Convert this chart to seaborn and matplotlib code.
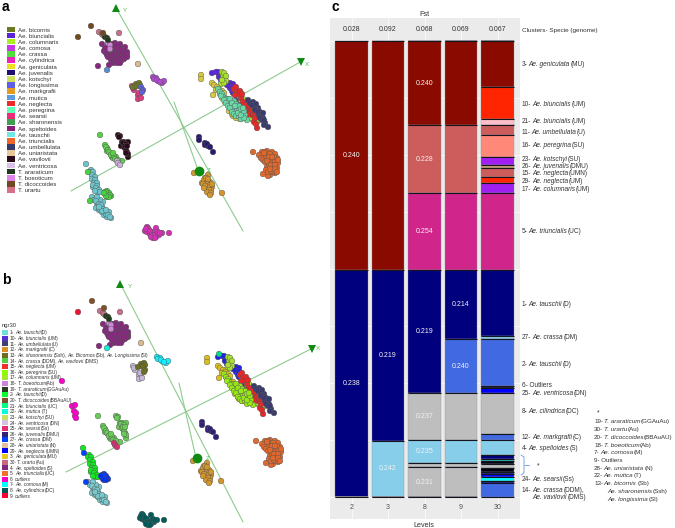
import pandas as pd
import matplotlib
matplotlib.use("Agg")
import matplotlib.pyplot as plt
import seaborn as sns

sns.set_theme(style="white")
plt.rcParams["font.family"] = ["Liberation Sans", "DejaVu Sans"]

W, H = 675, 528

# ---- panel a / b legends
legend_a = ["Ae. bicornis", "Ae. biuncialis", "Ae. columnaris", "Ae. comosa", "Ae. crassa",
            "Ae. cylindrica", "Ae. geniculata", "Ae. juvenalis", "Ae. kotschyi", "Ae. longissima",
            "Ae. markgrafii", "Ae. mutica", "Ae. neglecta", "Ae. peregrina", "Ae. searsii",
            "Ae. sharonensis", "Ae. speltoides", "Ae. tauschii", "Ae. triuncialis", "Ae. umbellulata",
            "Ae. uniaristata", "Ae. vavilovii", "Ae. ventricosa", "T. araraticum", "T. boeoticum",
            "T. dicoccoides", "T. urartu"]
colors_a = ["#6b7a1e", "#5a25d8", "#aaf01f", "#c838e8", "#4de03d", "#f01fc0", "#efdf1f", "#1f0f6f",
            "#cfe05f", "#5f5fe8", "#e39a20", "#5b9be0", "#f02828", "#5fffb5", "#ef2a7a", "#3f9f4f",
            "#8a1f7a", "#70e8e8", "#f0652a", "#35386a", "#e6c89a", "#2a0a1a", "#d9c0e8", "#1f3a1a",
            "#df85ea", "#704a20", "#d8708a"]

legend_b = ["1- *Ae. tauschii* (D)", "10- *Ae. biuncialis* (UM)", "11- *Ae. umbellulata* (U)",
            "12- *Ae. markgrafii* (C)", "13- *Ae. sharonensis* (Ssh), *Ae. Bicornos* (Sb), *Ae. Longissima* (Sl)",
            "14- *Ae. crassa* (DDM), *Ae. vavilovii* (DMS)", "15- *Ae. neglecta* (UM)", "16- *Ae. peregrina* (SU)",
            "17- *Ae. columnaris* (UM)", "18- *T. boeoticum* (Ab)", "19- *T. araraticum* (GGAuAu)",
            "2- *Ae. tauschii* (D)", "20- *T. dicoccoides* (BBAuAU)", "21- *Ae. biuncialis* (UC)",
            "22- *Ae. mutica* (T)", "23- *Ae. kotschyi* (SU)", "24- *Ae. ventricosa* (DN)", "25- *Ae. searsii* (Ss)",
            "26- *Ae. juvenalis* (DMU)", "27- *Ae. crassa* (DM)", "28- *Ae. uniaristata* (N)",
            "29- *Ae. neglecta* (UMN)", "3- *Ae. geniculata* (MU)", "30- *T. urartu* (Au)", "4- *Ae. speltoides* (S)",
            "5- *Ae. triuncialis* (UC)", "6- *outliers*", "7- *Ae. comosa* (M)", "8- *Ae. cylindrica* (DC)",
            "9- *outliers*"]
colors_b = ["#70dede", "#5a2fd0", "#404070", "#d8902a", "#6b701e", "#50d040", "#f03030", "#8fff00",
            "#a5e82a", "#d080e0", "#2a3a20", "#00ff2a", "#80502a", "#00ff80", "#00ffdd", "#c8e060",
            "#d8c0e0", "#e03070", "#30207a", "#0040ff", "#e0c0a0", "#0000ff", "#e8c820", "#c86a80",
            "#802a80", "#f07030", "#ff00cc", "#00ffff", "#005a5a", "#ff0030"]

# ---- scatter points
gold = [(201, 75), (201, 79), (212, 83), (214, 85), (217, 87), (219, 89), (222, 91), (213, 95), (224, 97),
        (227, 99), (228, 102), (231, 105), (234, 112), (238, 113), (233, 116), (240, 119), (224, 93),
        (216, 90), (220, 94), (222, 98), (225, 102), (229, 106), (232, 114), (236, 118), (229, 111)]
mint = [(218, 89), (220, 92), (222, 94), (223, 97), (225, 99), (227, 101), (229, 103), (231, 101), (232, 105),
        (233, 107), (235, 103), (235, 109), (237, 107), (237, 111), (239, 109), (240, 113), (242, 112),
        (242, 117), (245, 115), (247, 120), (228, 99), (232, 109), (221, 96), (224, 100), (226, 103), (228, 106),
        (230, 108), (232, 112), (234, 114), (236, 116), (239, 116), (241, 119), (244, 118), (238, 113),
        (241, 115), (234, 101), (236, 104), (239, 106), (241, 109), (244, 111), (243, 108),
        (230, 99), (232, 103), (235, 106)]
purple = [(212, 73), (219, 74), (220, 77), (223, 80), (230, 83), (233, 84), (230, 88), (232, 91), (237, 97),
          (240, 102), (243, 103), (238, 99), (216, 72), (218, 72), (221, 75), (219, 77), (221, 80), (227, 85),
          (229, 86), (233, 87), (235, 90), (233, 93), (236, 94), (240, 99), (242, 100), (245, 106), (241, 104)]
lime = [(223, 75), (225, 79), (221, 84), (238, 95), (250, 110), (253, 112), (257, 122), (257, 117), (254, 118),
        (247, 117), (248, 105), (241, 100), (244, 103), (252, 114), (256, 120), (222, 72), (224, 73), (226, 76),
        (226, 81), (224, 83), (222, 80), (236, 92), (240, 97), (243, 99), (246, 104), (249, 107), (251, 109),
        (254, 115), (250, 113), (248, 109), (255, 122), (253, 120), (251, 118), (258, 120), (245, 108), (247, 112)]
red = [(234, 89), (237, 92), (239, 94), (241, 98), (244, 107), (247, 108), (249, 110), (252, 115), (254, 122),
       (257, 128), (235, 95), (236, 87), (240, 91), (242, 94), (243, 102), (246, 105), (250, 106), (252, 110),
       (254, 113), (255, 118), (256, 124), (250, 112), (248, 114)]
slate = [(248, 100), (253, 102), (255, 107), (258, 108), (260, 112), (262, 115), (263, 118), (265, 123),
         (268, 127), (257, 110), (259, 115), (250, 103), (252, 105), (255, 110), (258, 112), (261, 116), (260, 118),
         (262, 120), (264, 120), (263, 113), (256, 104), (264, 125)]
taus_up = [(91, 170), (92, 173), (93, 177), (94, 181), (95, 185), (97, 189), (98, 192), (93, 187), (90, 172),
           (93, 172), (92, 175), (95, 177), (92, 179), (95, 180), (94, 183), (97, 183), (93, 185), (97, 186),
           (96, 188), (99, 190), (100, 192), (95, 191)]
taus_out = [(86, 164)]
taus_low = [(92, 197), (94, 200), (97, 203), (98, 206), (96, 208), (99, 210), (102, 212), (104, 215), (107, 217),
            (111, 218), (109, 212), (103, 202), (100, 200), (102, 207), (97, 197), (96, 201), (99, 204), (101, 205),
            (100, 209), (103, 209), (105, 212), (106, 214), (104, 211), (108, 215), (110, 217), (102, 211),
            (99, 207), (106, 210)]
crassa_blob = [(105, 192), (107, 191), (109, 193), (111, 196), (107, 197), (105, 194), (108, 195), (106, 192),
               (110, 195), (109, 197), (106, 196), (104, 193)]
crassa_out = [(88, 172), (90, 201)]
crassa_top = [(100, 135), (105, 145), (107, 148), (107, 151), (110, 153), (112, 157), (113, 158), (116, 157),
              (112, 154), (122, 161), (106, 147), (108, 150), (109, 152), (111, 155), (114, 156), (113, 153),
              (115, 159), (118, 160)]
vavilovii = [(118, 135), (120, 136), (122, 142), (124, 142), (128, 142), (123, 145), (125, 148), (127, 152),
             (128, 157), (121, 146), (119, 137), (123, 143), (126, 144), (124, 147), (126, 150), (128, 154),
             (126, 153), (125, 146), (127, 146)]
ventricosa = [(117, 161), (118, 163), (120, 165)]
cylindrica = [(147, 227), (145, 231), (147, 232), (150, 234), (153, 236), (156, 237), (159, 235), (162, 233),
              (152, 232), (156, 228), (169, 233), (149, 230), (153, 238), (157, 234), (148, 228), (146, 229),
              (150, 231), (152, 235), (155, 235), (158, 232), (160, 233), (151, 237), (155, 238)]
speltoides = [(108, 45), (112, 47), (115, 43), (118, 46), (122, 48), (125, 47), (106, 53), (109, 52), (113, 52),
              (117, 51), (122, 52), (127, 55), (107, 55), (111, 57), (115, 57), (119, 55), (123, 56), (127, 57),
              (113, 59), (117, 60), (121, 61), (124, 59), (118, 62), (113, 63), (109, 65), (102, 44), (98, 66),
              (110, 44), (113, 44), (120, 44), (107, 48), (110, 49), (114, 49), (116, 48), (120, 49), (124, 50),
              (127, 52), (104, 51), (109, 55), (113, 55), (117, 54), (121, 54), (125, 53), (111, 60), (115, 60),
              (119, 58), (122, 58), (125, 57), (117, 63), (120, 63), (108, 57), (105, 48), (115, 46)]
boeoticum = [(108, 43), (110, 45), (110, 49)]
urartu = [(99, 32), (102, 34), (103, 35), (119, 33)]
araraticum = [(105, 37), (107, 38), (108, 40)]
dicoccoides = [(91, 26), (103, 33)]
dico_out = [(78, 37)]
mutica = [(107, 70)]
uniaristata = [(138, 64)]
bicornis = [(136, 84), (139, 83), (133, 87), (137, 86), (140, 85)]
longissima = [(141, 87), (143, 90), (142, 92)]
searsii = [(132, 86), (134, 90), (138, 95), (140, 97), (138, 99), (141, 98), (133, 88), (139, 93)]
comosa = [(153, 77), (156, 78), (158, 81), (162, 83), (164, 81), (154, 79), (157, 80), (160, 82)]
juvenalis = [(199, 137), (199, 140), (205, 143), (208, 146), (213, 152), (205, 145), (207, 144), (210, 147)]
triuncialis = [(253, 152), (262, 152), (267, 151), (272, 152), (275, 154), (277, 158), (278, 163), (277, 168),
               (275, 173), (270, 175), (267, 167), (270, 160), (273, 163), (268, 155), (263, 155), (265, 158),
               (272, 168), (275, 160), (269, 165), (273, 172), (263, 174), (268, 176), (259, 155), (261, 158),
               (263, 160), (265, 162), (265, 152), (270, 154), (274, 157), (266, 170), (268, 172), (271, 171),
               (274, 170), (271, 165), (275, 165), (278, 160), (269, 157), (272, 157), (267, 161), (275, 169),
               (270, 169), (264, 153), (277, 172)]
markgrafii = [(202, 183), (205, 178), (210, 182), (212, 187), (209, 193), (206, 188), (222, 193), (194, 173),
              (208, 175), (204, 180), (207, 184), (211, 190), (203, 184), (206, 178), (208, 179), (210, 185),
              (208, 187), (205, 186), (209, 190), (207, 192), (211, 193), (212, 184), (204, 188), (210, 195)]

# points only seen in panel b (its own pixel frame)
extra_b_magenta = [(62, 381), (72, 406), (75, 405), (74, 411), (75, 416), (76, 418), (76, 413)]
extra_b_green = [(219, 354)]

# name, points, colour in a, colour in b, shift from a to b
clusters = [
    ("triuncialis", triuncialis, "#e0682c", "#e0682c", 3, 289),
    ("markgrafii", markgrafii, "#d3962c", "#d3962c", -1, 288),
    ("juvenalis", juvenalis, "#2a1a70", "#30207a", 3, 285),
    ("cylindrica", cylindrica, "#d62fb5", "#005a5a", -5, 287),
    ("taus_low", taus_low, "#6cc4cc", "#78c8cc", -4, 285),
    ("taus_up", taus_up, "#6cc4cc", "#10e820", -2, 285),
    ("taus_out", taus_out, "#6cc4cc", "#10e820", -3, 284),
    ("crassa_blob", crassa_blob, "#48d040", "#0030f0", -3, 283),
    ("crassa_out", crassa_out, "#48d040", "#0040ff", -4, 281),
    ("crassa_top", crassa_top, "#58d048", "#68cc58", -2, 281),
    ("vavilovii", vavilovii, "#2a0a1a", "#68cc58", -2, 281),
    ("ventricosa", ventricosa, "#c8b0d8", "#d83070", -3, 282),
    ("speltoides", speltoides, "#86287e", "#86287e", 1, 280),
    ("boeoticum", boeoticum, "#d088d8", "#d088d8", 1, 280),
    ("urartu", urartu, "#c87088", "#c87088", 1, 279),
    ("araraticum", araraticum, "#1f3a1a", "#1f3a1a", 1, 279),
    ("dicoccoides", dicoccoides, "#704a20", "#80502a", 1, 275),
    ("dico_out", dico_out, "#704a20", "#f01030", 0, 275),
    ("mutica", mutica, "#5b8fd0", "#10f0e0", 0, 278),
    ("uniaristata", uniaristata, "#d8bc90", "#d8bc90", 3, 279),
    ("searsii", searsii, "#e03a80", "#c8b8d8", 1, 280),
    ("bicornis", bicornis, "#6b7a1e", "#6b701e", 5, 280),
    ("longissima", longissima, "#5f5fd8", "#6b701e", 2, 280),
    ("comosa", comosa, "#b048d0", "#10f0ff", 4, 280),
    ("purple", purple, "#5a25d8", "#2020e8", 6, 284),
    ("lime", lime, "#a8e030", "#a8e030", 6, 285),
    ("red", red, "#e82828", "#e82828", 6, 286),
    ("slate", slate, "#3a3c70", "#3a3c70", 6, 286),
    ("gold", gold, "#d8c840", "#d8c020", 6, 283),
    ("mint", mint, "#68d8a8", "#98e818", 6, 285),
]

# coordinate axes drawn over the cloud: (x0, y0, x1, y1)
axes_a = [(71, 191, 302, 61), (243, 231, 115, 6), (174, 102, 198, 170)]
axes_b = [(66, 472, 313, 348), (243, 522, 120, 283), (179, 383, 196, 458)]

# ---- panel c
levels = ["2", "3", "8", "9", "30"]
fst = ["0.028", "0.092", "0.068", "0.069", "0.067"]

DR, OR, PK, IR, SA = "#8b0a00", "#ff2500", "#ffc0cb", "#cd5c5c", "#ff8878"
PU, TN, MG, NV, LB = "#a020f0", "#c8a070", "#d0268c", "#00007f", "#87ceeb"
RB, BK, BL, GY, CY = "#4169e1", "#000010", "#0000ff", "#bebebe", "#00ffff"
TL = "#00c8b8"

seg_2 = [229, 227]
col_2 = [DR, NV]
txt_2 = ["0.240", "0.238"]
seg_3 = [229, 171, 56]
col_3 = [DR, NV, LB]
txt_3 = [None, "0.219", "0.242"]
seg_8 = [84, 68, 77, 123, 47, 23, 4, 30]
col_8 = [DR, IR, MG, NV, GY, LB, GY, GY]
txt_8 = ["0.240", "0.228", "0.254", "0.219", "0.237", "0.235", None, "0.231"]
seg_9 = [84, 68, 77, 69, 54, 47, 23, 4, 30]
col_9 = [DR, IR, MG, NV, RB, GY, LB, GY, GY]
txt_9 = [None, None, None, "0.214", "0.240", None, None, None, None]
seg_30 = [46, 32, 6, 10, 22, 8, 3, 9, 6, 10, 77, 66, 3, 47, 2, 5, 41, 6, 15, 4, 2, 3, 4, 4, 2, 3, 4, 2, 14]
col_30 = [DR, OR, PK, IR, SA, PU, TN, IR, OR, PU, MG, NV, LB, RB, BK, BL, GY, RB, LB, NV, TL, BK, GY, BK,
          NV, BL, CY, NV, RB]

labels_right = [("3- *Ae. geniculata* (MU)", 63.5), ("10- *Ae. biuncialis* (UM)", 104),
                ("21- *Ae. biuncialis* (UM)", 121), ("11- *Ae. umbellulata* (U)", 132),
                ("16- *Ae. peregrina* (SU)", 145), ("23- *Ae. kotschyi* (SU)", 159),
                ("26- *Ae. juvenalis* (DMU)", 166), ("15- *Ae. neglecta* (UMN)", 173),
                ("29- *Ae. neglecta* (UM)", 181), ("17- *Ae. columnaris* (UM)", 189),
                ("5- *Ae. triuncialis* (UC)", 231), ("1- *Ae. tauschii* (D)", 304),
                ("27- *Ae. crassa* (DM)", 337), ("2- *Ae. tauschii* (D)", 364), ("6- Outliers", 385),
                ("25- *Ae. ventricosa* (DN)", 392.5), ("8- *Ae. cilindrica* (DC)", 411),
                ("12- *Ae. markgrafii* (C)", 436.5), ("4- *Ae. spelloides* (S)", 448),
                ("24- *Ae. searsii* (Ss)", 479), ("14- *Ae. crassa* (DDM),", 490)]
labels_far = [("19- *T. araraticum* (GGAuAu)", 421), ("30- *T. urartu* (Au)", 429),
              ("20- *T. dicoccoides* (BBAuAU)", 437), ("18- *T. boeoticum* (Ab)", 444.5),
              ("7- *Ae. comosa* (M)", 451.5), ("9- Outliers", 459.5), ("28- *Ae. uniaristata* (N)", 467.5),
              ("22- *Ae. mutica* (T)", 475), ("13- *Ae. bicornis* (Sb)", 483)]

fig = plt.figure(figsize=(W / 100, H / 100), dpi=100)
renderer = fig.canvas.get_renderer()


def put(x, y, s, size=4.7, color="#333333", ha="left", **kw):
    # *...* marks the italic part of a label, each part is its own text
    em = size * 100 / 72
    base = 1 - (y + 0.36 * em) / H
    if "*" not in s or s == "*":
        fig.text(x / W, base, s, fontsize=size, color=color, ha=ha, va="baseline", **kw)
        return
    for k, part in enumerate(s.split("*")):
        part = part.strip()
        if not part:
            continue
        style = "italic" if k % 2 else "normal"
        t = fig.text(x / W, base, part, fontsize=size, color=color, ha="left", va="baseline", style=style)
        x = t.get_window_extent(renderer).x1 + 0.1 * em


def px_axes(x0, y0, x1, y1):
    return fig.add_axes([x0 / W, 1 - y1 / H, (x1 - x0) / W, (y1 - y0) / H])


def draw_cloud(ax, which, lines, heads, names, extras):
    rows = []
    palette = {}
    for name, pts, ca, cb, dx, dy in clusters:
        palette[name] = ca if which == "a" else cb
        for x, y in pts:
            if which == "a":
                rows.append((x, y, name))
            else:
                rows.append((x + dx, y + dy, name))
    for name, pts, c in extras:
        palette[name] = c
        rows += [(x, y, name) for x, y in pts]
    df = pd.DataFrame(rows, columns=["x", "y", "group"])
    sns.scatterplot(data=df, x="x", y="y", hue="group", palette=palette, s=17, linewidth=0.3,
                    edgecolor="#555555", legend=False, ax=ax, zorder=3)
    for x0, y0, x1, y1 in lines:
        ax.plot([x0, x1], [y0, y1], color="#8ecb8e", lw=0.8, zorder=2)
    for (x, y, m, s), (tx, ty, t) in zip(heads, names):
        ax.plot(x, y, marker=m, ms=s, color="#118a11", mew=0, zorder=4)
        ax.text(tx, ty, t, fontsize=4.5, color="#50c050", ha="center", va="center", zorder=4)
    ax.set_xlabel("")
    ax.set_ylabel("")
    ax.axis("off")


ax_a = px_axes(0, 0, 330, 262)
ax_a.set_xlim(0, 330)
ax_a.set_ylim(262, 0)
draw_cloud(ax_a, "a", axes_a,
           [(301, 62, "v", 6), (116, 8, "^", 6), (199, 171, "o", 7)],
           [(307, 64, "X"), (125, 10, "Y"), (209, 171, "Z")], [])

ax_b = px_axes(0, 262, 330, 528)
ax_b.set_xlim(0, 330)
ax_b.set_ylim(528, 262)
draw_cloud(ax_b, "b", axes_b,
           [(312, 349, "v", 6), (120, 284, "^", 6), (197, 458, "o", 7)],
           [(318, 349, "X"), (130, 286, "Y"), (208, 458, "Z")],
           [("b_magenta", extra_b_magenta, "#ff00cc"), ("b_green", extra_b_green, "#00e080")])

# legends as plain swatch + text rows
ax_leg = px_axes(0, 0, W, H)
ax_leg.set_xlim(0, W)
ax_leg.set_ylim(H, 0)
ax_leg.axis("off")
ax_leg.patch.set_alpha(0)
for i, (lab, c) in enumerate(zip(legend_a, colors_a)):
    y = 29.3 + i * 6.19
    ax_leg.fill_between([7, 15], y - 2.8, y + 2.8, color=c, lw=0)
    put(18, y, lab, size=4.4)
put(2, 324.5, "ngr30", size=4.2)
for i, (lab, c) in enumerate(zip(legend_b, colors_b)):
    y = 332.7 + i * 5.63
    ax_leg.fill_between([2, 7.5], y - 2.5, y + 2.5, color=c, lw=0)
    put(10, y, lab, size=3.5)

# bracket next to the stacked column
ax_leg.plot([521, 524, 524, 521], [455, 457, 473, 475], color="#7aa6dc", lw=0.7)
ax_leg.plot([524, 529], [465, 465], color="#7aa6dc", lw=0.7)

# stacked columns
all_segs = [seg_2, seg_3, seg_8, seg_9, seg_30]
all_cols = [col_2, col_3, col_8, col_9, col_30]
rows = []
for lev, seg, col in zip(levels, all_segs, all_cols):
    for j, (h, c) in enumerate(zip(seg, col)):
        rows.append((lev, f"{lev}_{j}", h, c))
stack_df = pd.DataFrame(rows, columns=["level", "segment", "share", "color"])
stack_df["level"] = pd.Categorical(stack_df["level"], categories=levels, ordered=True)

ax_c = px_axes(330, 18, 520, 519)
ax_c.set_facecolor("#ebebeb")
sns.histplot(data=stack_df, x="level", hue="segment", weights="share", multiple="stack", discrete=True,
             shrink=0.9, hue_order=list(stack_df["segment"][::-1]),
             palette=dict(zip(stack_df["segment"], stack_df["color"])), alpha=1, linewidth=0.25,
             edgecolor="#8a8a90", legend=False, ax=ax_c, zorder=3)
ax_c.set_xlim(-0.589, 4.616)
ax_c.set_ylim(478, -23)
ax_c.set_yticks([57 * k for k in range(0, 9)])
ax_c.set_xticks(range(5))
ax_c.grid(True, color="white", lw=0.5, zorder=0)
ax_c.set_axisbelow(True)
ax_c.tick_params(left=False, bottom=False, labelleft=False, labelbottom=False)
ax_c.set_xlabel("")
ax_c.set_ylabel("")
for s in ax_c.spines.values():
    s.set_visible(False)

# black rule on each segment boundary
for i, seg in enumerate(all_segs):
    top = 0
    ax_c.hlines(0, i - 0.45, i + 0.45, color="#15151f", lw=0.8, zorder=4)
    for h in seg:
        top += h
        ax_c.hlines(top, i - 0.45, i + 0.45, color="#15151f", lw=0.8, zorder=4)

for i, (seg, txt) in enumerate(zip(all_segs[:4], [txt_2, txt_3, txt_8, txt_9])):
    top = 0
    for h, t in zip(seg, txt):
        if t:
            ax_c.text(i, top + h / 2, t, color="#f2f2f2", fontsize=5, ha="center", va="center", zorder=5)
        top += h

for i, (lev, f) in enumerate(zip(levels, fst)):
    ax_c.text(i, -11.5, f, color="#333333", fontsize=5, ha="center", va="center")
    ax_c.text(i, 466.5, lev, color="#4d4d4d", fontsize=5, ha="center", va="center")

put(424, 13, "Fst", size=5.2, ha="center")
put(424, 524, "Levels", size=5.2, ha="center")
put(522, 30, "Clusters- Specie (genome)", size=4.55)
for lab, y in labels_right:
    put(522, y, lab)
put(532, 497, "*Ae. vavilovii* (DMS)")
put(537, 465, "*", size=5)
put(597, 412, "*", size=5)
for lab, y in labels_far:
    put(594, y, lab, size=4.5)
put(607, 491, "*Ae. sharonensis* (Ssh)", size=4.5)
put(607, 498.5, "*Ae. longissima* (Sl)", size=4.5)

put(2, 6, "a", size=10, color="black", fontweight="bold")
put(2, 279, "b", size=10, color="black", fontweight="bold")
put(332, 6, "c", size=10, color="black", fontweight="bold")

fig.savefig("out.png", dpi=100)
